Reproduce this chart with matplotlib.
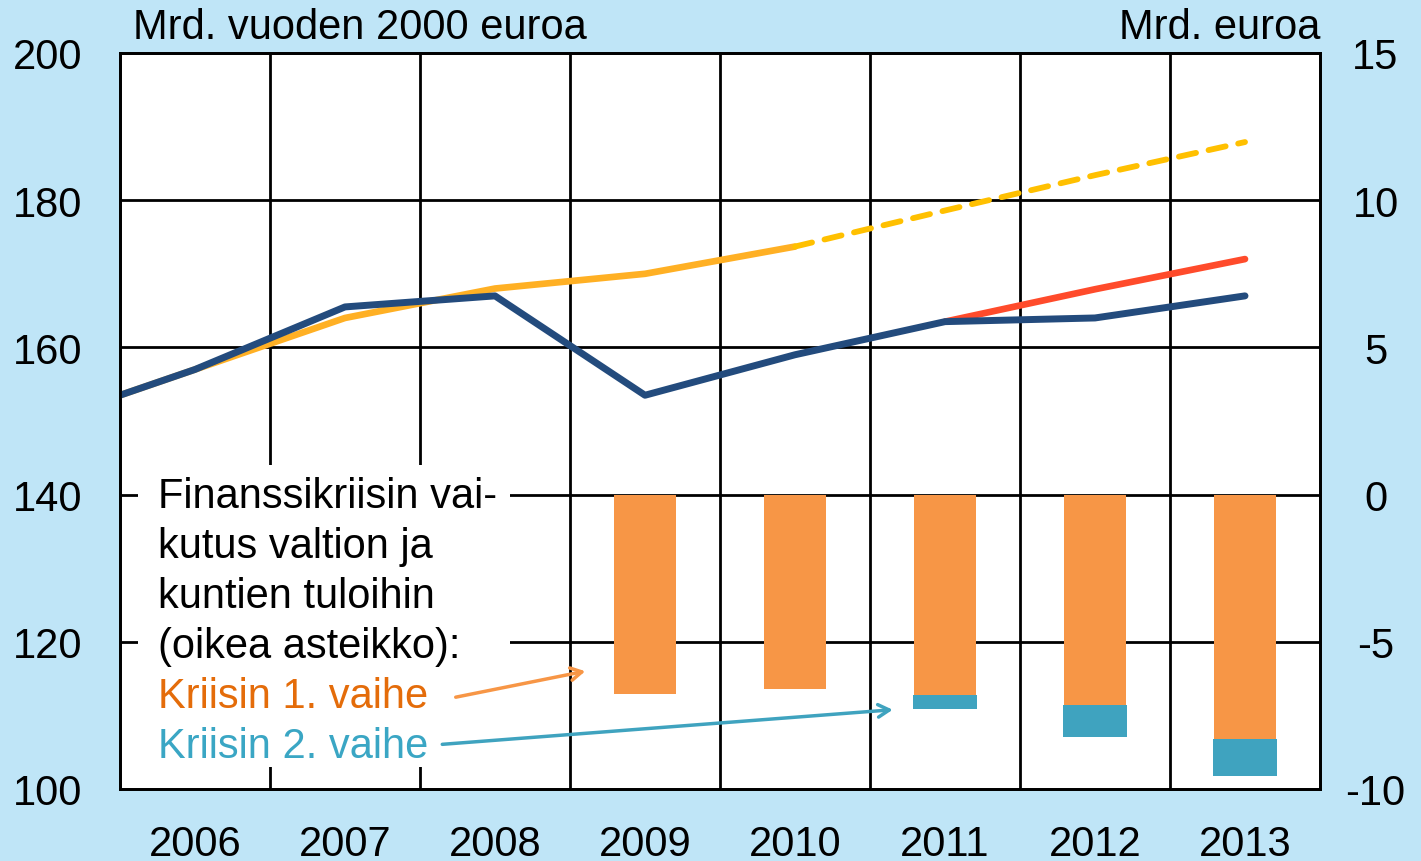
import matplotlib.pyplot as plt
import matplotlib.patches as mpatches
import numpy as np

plt.rcParams['font.family'] = ['Liberation Sans', 'DejaVu Sans']
plt.rcParams['axes.unicode_minus'] = False

# data
years = ['2006', '2007', '2008', '2009', '2010', '2011', '2012', '2013']
x_line = [-1, 0, 1, 2, 3, 4, 5, 6, 7]          # 2005 point lies outside the axis
actual = [150.0, 157.0, 165.5, 167.0, 153.5, 159.0, 163.5, 164.0, 167.0]
trend = [150.0, 157.0, 164.0, 168.0, 170.0, 173.7]
x_trend = [-1, 0, 1, 2, 3, 4]
trend_fc = [173.7, 178.6, 183.4, 187.9]
x_trend_fc = [4, 5, 6, 7]
phase1_path = [163.5, 167.9, 172.0]
x_phase1 = [5, 6, 7]

bar_x = [3, 4, 5, 6, 7]
phase1 = [-6.76, -6.62, -6.80, -7.13, -8.29]
phase2 = [0.0, 0.0, -0.48, -1.09, -1.26]

note_lines = ['Finanssikriisin vai-', 'kutus valtion ja', 'kuntien tuloihin',
              '(oikea asteikko):', 'Kriisin 1. vaihe', 'Kriisin 2. vaihe']

c_blue = '#234B7D'
c_trend = '#FFB024'
c_fc = '#FFC000'
c_red = '#FF4B2B'
c_bar1 = '#F79646'
c_bar2 = '#3FA3BF'
c_txt1 = '#E46C0A'
c_txt2 = '#3AA6C4'
fs = 30

fig = plt.figure(figsize=(14.21, 8.62), dpi=100, facecolor='#BFE5F7')
ax = fig.add_axes([120 / 1421, 1 - 790 / 862, 1200 / 1421, 736 / 862])
ax.set_facecolor('white')
ax2 = ax.twinx()

ax.set_xlim(-0.5, 7.5)
ax.set_ylim(100, 200)
ax2.set_ylim(-10, 15)

# gridlines
for xv in np.arange(0.5, 7.5, 1):
    ax.axvline(xv, color='black', lw=2, zorder=1)
for yv in [120, 140, 160, 180]:
    ax.axhline(yv, color='black', lw=2, zorder=1)

ax.plot(x_trend, trend, color=c_trend, lw=4.8, zorder=3, solid_capstyle='round')
ax.plot(x_trend_fc, trend_fc, color=c_fc, lw=4.2, ls=(0, (3, 2.2)), zorder=3,
        dash_capstyle='round')
ax.plot(x_phase1, phase1_path, color=c_red, lw=4.8, zorder=3, solid_capstyle='round')
ax.plot(x_line, actual, color=c_blue, lw=5, zorder=4, solid_capstyle='round')

ax.set_xticks(range(8))
ax.set_xticklabels(years)
ax.set_yticks([100, 120, 140, 160, 180, 200])
ax2.set_yticks([-10, -5, 0, 5, 10, 15])
ax.tick_params(axis='x', length=0, pad=25, labelsize=fs)
ax.tick_params(axis='y', length=0, pad=27, labelsize=fs)
ax2.tick_params(axis='y', length=0, pad=40, labelsize=fs)
for lab in ax2.get_yticklabels():
    lab.set_horizontalalignment('center')
for a in (ax, ax2):
    for s in a.spines.values():
        s.set_linewidth(2)
        s.set_color('black')

# bars on right scale
ax2.bar(bar_x, phase1, width=0.41, color=c_bar1, zorder=2)
ax2.bar(bar_x, phase2, width=0.43, bottom=phase1, color=c_bar2, zorder=2)

# white box behind note
ax2.add_patch(mpatches.Rectangle((0.015, 0.03), 0.31, 0.41, transform=ax2.transAxes,
                                 facecolor='white', edgecolor='none', zorder=1.5))
note_colors = ['black'] * 4 + [c_txt1, c_txt2]
for i, (line, col) in enumerate(zip(note_lines, note_colors)):
    ax2.text(0.0317, 0.398 - i * 0.0679, line, transform=ax2.transAxes, color=col,
             fontsize=fs, va='center', ha='left', zorder=5)

ax2.annotate('', xy=(2.62, -5.98), xytext=(1.72, -6.9),
             arrowprops=dict(arrowstyle='->,head_length=0.8,head_width=0.45',
                             color=c_bar1, lw=2.5), zorder=6)
ax2.annotate('', xy=(4.67, -7.3), xytext=(1.63, -8.49),
             arrowprops=dict(arrowstyle='->,head_length=0.8,head_width=0.45',
                             color=c_bar2, lw=2.5), zorder=6)

fig.text(133 / 1421, 1 - 28 / 862, 'Mrd. vuoden 2000 euroa', fontsize=fs,
         ha='left', va='center')
fig.text(1320 / 1421, 1 - 28 / 862, 'Mrd. euroa', fontsize=fs,
         ha='right', va='center')

fig.savefig('out.png', dpi=100, facecolor=fig.get_facecolor())
